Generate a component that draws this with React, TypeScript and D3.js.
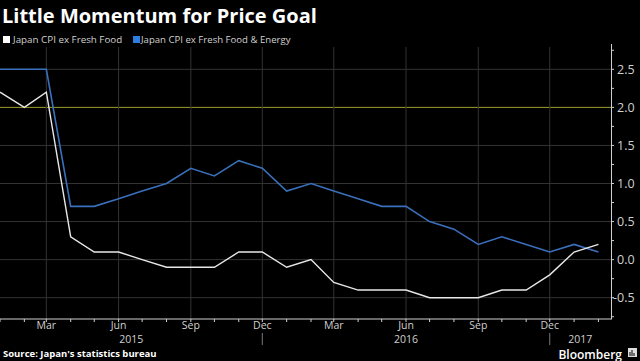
import React from "react";
import * as d3 from "d3";

const months = [
  "2015-01", "2015-02", "2015-03", "2015-04", "2015-05", "2015-06", "2015-07",
  "2015-08", "2015-09", "2015-10", "2015-11", "2015-12", "2016-01", "2016-02",
  "2016-03", "2016-04", "2016-05", "2016-06", "2016-07", "2016-08", "2016-09",
  "2016-10", "2016-11", "2016-12", "2017-01", "2017-02",
];
const cpiExFresh = [
  2.2, 2.0, 2.2, 0.3, 0.1, 0.1, 0.0, -0.1, -0.1, -0.1, 0.1, 0.1, -0.1, 0.0,
  -0.3, -0.4, -0.4, -0.4, -0.5, -0.5, -0.5, -0.4, -0.4, -0.2, 0.1, 0.2,
];
const cpiExFreshEnergy = [
  2.5, 2.5, 2.5, 0.7, 0.7, 0.8, 0.9, 1.0, 1.2, 1.1, 1.3, 1.2, 0.9, 1.0,
  0.9, 0.8, 0.7, 0.7, 0.5, 0.4, 0.2, 0.3, 0.2, 0.1, 0.2, 0.1,
];
const yTicks = [-0.5, 0.0, 0.5, 1.0, 1.5, 2.0, 2.5];
const monthTicks = ["2015-03", "2015-06", "2015-09", "2015-12", "2016-03", "2016-06", "2016-09", "2016-12"];
const yearLabels = [
  { year: "2015", from: "2015-01", to: "2015-12" },
  { year: "2016", from: "2015-12", to: "2016-12" },
  { year: "2017", from: "2016-12", to: "2017-02-17" },
];
const target = 2.0;

const W = 640;
const H = 361;
const parse = (s: string) => (s.length === 7 ? d3.timeParse("%Y-%m")(s) : d3.timeParse("%Y-%m-%d")(s)) as Date;

export default function App() {
  const x = d3.scaleTime().domain([parse("2015-01"), parse("2017-02-17")]).range([0, 611]);
  const y = d3.scaleLinear().domain([-0.78, 2.78]).range([319, 48]);
  const dates = months.map(parse);
  const line = d3
    .line<number>()
    .x((_, i) => x(dates[i]))
    .y((d) => y(d));
  const monthFmt = d3.timeFormat("%b");
  const minorMonths = d3.timeMonth.range(parse("2015-01"), parse("2017-03"));
  const minorY = d3.range(-0.75, 2.8, 0.25);
  const grey = "#d0d0d0";
  const font = "'Open Sans', sans-serif";

  return (
    <svg width={W} height={H} style={{ position: "absolute", left: 0, top: 0, background: "#000" }}>
      <rect width={W} height={H} fill="#000" />
      <text x={2} y={23} fill="#fff" fontFamily={font} fontWeight={700} fontSize={20}>
        Little Momentum for Price Goal
      </text>
      <rect x={3} y={36} width={7} height={7} fill="#ffffff" />
      <text x={13} y={43} fill={grey} fontFamily={font} fontSize={9.8}>
        Japan CPI ex Fresh Food
      </text>
      <rect x={133} y={36} width={7} height={7} fill="#2f7de1" />
      <text x={141} y={43} fill={grey} fontFamily={font} fontSize={9.6}>
        Japan CPI ex Fresh Food &amp; Energy
      </text>

      {/* grid */}
      {yTicks.map((t) => (
        <line key={t} x1={0} x2={611} y1={y(t)} y2={y(t)} stroke={t === target ? "#9c9c2c" : "#333"} strokeWidth={1} />
      ))}
      {monthTicks.map((m) => (
        <line key={m} x1={x(parse(m))} x2={x(parse(m))} y1={47} y2={319} stroke="#333" strokeWidth={1} />
      ))}

      {/* series */}
      <path d={line(cpiExFreshEnergy) as string} fill="none" stroke="#3a70bb" strokeWidth={1.6} />
      <path d={line(cpiExFresh) as string} fill="none" stroke="#e8e8e8" strokeWidth={1.4} />

      {/* y axis */}
      <line x1={611.5} x2={611.5} y1={44} y2={319} stroke={grey} strokeWidth={1} />
      {minorY.map((t) => (
        <line key={t} x1={611} x2={614} y1={y(t)} y2={y(t)} stroke={grey} strokeWidth={1} />
      ))}
      {yTicks.map((t) => (
        <text key={t} x={t < 0 ? 613 : 617} y={y(t) + 4.5} fill={grey} fontFamily={font} fontSize={12.5}>
          {t < 0 ? "-" + Math.abs(t).toFixed(1) : t.toFixed(1)}
        </text>
      ))}

      {/* x axis */}
      <line x1={0} x2={612} y1={319} y2={319} stroke={grey} strokeWidth={1} />
      {minorMonths.map((m) => (
        <line key={+m} x1={x(m)} x2={x(m)} y1={319} y2={322} stroke={grey} strokeWidth={1} />
      ))}
      {monthTicks.map((m) => (
        <text key={m} x={x(parse(m))} y={328.5} fill={grey} fontFamily={font} fontSize={10.5} textAnchor="middle">
          {monthFmt(parse(m))}
        </text>
      ))}
      {yearLabels.map((yl) => (
        <text
          key={yl.year}
          x={(x(parse(yl.from)) * (yl.year === "2015" ? 0 : 1) + x(parse(yl.to))) / 2}
          y={343}
          fill={grey}
          fontFamily={font}
          fontSize={10.5}
          textAnchor="middle"
        >
          {yl.year}
        </text>
      ))}
      {["2015-12", "2016-12"].map((m) => (
        <line key={m} x1={x(parse(m))} x2={x(parse(m))} y1={333} y2={345} stroke="#777" strokeWidth={1} />
      ))}

      {/* footer */}
      <text x={3} y={357} fill="#fff" fontFamily={font} fontWeight={700} fontSize={9.5}>
        Source: Japan's statistics bureau
      </text>
      <text x={622} y={358.5} fill="#fff" fontFamily={font} fontWeight={600} fontSize={12} textAnchor="end">
        Bloomberg
      </text>
      <rect x={628} y={348} width={9} height={9} fill="#ddd" />
      <path d="M630 356 V352 M632 356 V350 M634 356 V353" stroke="#000" strokeWidth={1} />
    </svg>
  );
}
